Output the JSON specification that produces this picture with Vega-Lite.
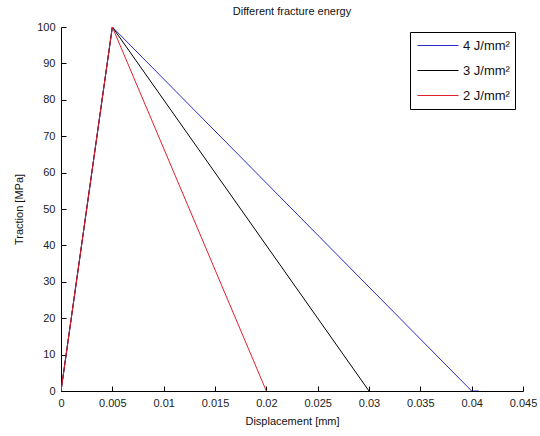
{
  "$schema": "https://vega.github.io/schema/vega-lite/v6.json",
  "width": 462,
  "height": 364,
  "autosize": "none",
  "padding": {"left": 61, "top": 27, "right": 17, "bottom": 45},
  "background": "white",
  "title": {"text": "Different fracture energy", "fontSize": 11, "fontWeight": "normal", "font": "Liberation Sans", "color": "#111", "offset": 4},
  "data": {"values": [
    {"series": "4 J/mm²", "i": 0, "x": 0, "y": 0},
    {"series": "4 J/mm²", "i": 1, "x": 0.005, "y": 100},
    {"series": "4 J/mm²", "i": 2, "x": 0.04, "y": 0},
    {"series": "4 J/mm²", "i": 3, "x": 0.0407, "y": 0},
    {"series": "3 J/mm²", "i": 0, "x": 0, "y": 0},
    {"series": "3 J/mm²", "i": 1, "x": 0.005, "y": 100},
    {"series": "3 J/mm²", "i": 2, "x": 0.03, "y": 0},
    {"series": "2 J/mm²", "i": 0, "x": 0, "y": 0},
    {"series": "2 J/mm²", "i": 1, "x": 0.005, "y": 100},
    {"series": "2 J/mm²", "i": 2, "x": 0.02, "y": 0}
  ]},
  "mark": {"type": "line", "strokeWidth": 1, "clip": true},
  "encoding": {
    "x": {"field": "x", "type": "quantitative", "title": "Displacement [mm]",
      "scale": {"domain": [0, 0.045], "nice": false, "zero": false},
      "axis": {"values": [0, 0.005, 0.01, 0.015, 0.02, 0.025, 0.03, 0.035, 0.04, 0.045], "format": "~g", "grid": false, "tickSize": -5, "labelPadding": 11, "domainColor": "#000", "tickColor": "#000", "labelColor": "#222", "labelFont": "Liberation Sans", "labelFontSize": 11, "titleFont": "Liberation Sans", "titleFontSize": 11, "titleFontWeight": "normal", "titleColor": "#111", "titlePadding": 7, "labelFlush": false}},
    "y": {"field": "y", "type": "quantitative", "title": "Traction [MPa]",
      "scale": {"domain": [0, 100], "nice": false},
      "axis": {"values": [0, 10, 20, 30, 40, 50, 60, 70, 80, 90, 100], "grid": false, "tickSize": -5, "labelPadding": 11, "domainColor": "#000", "tickColor": "#000", "labelColor": "#222", "labelFont": "Liberation Sans", "labelFontSize": 11, "titleFont": "Liberation Sans", "titleFontSize": 11, "titleFontWeight": "normal", "titleColor": "#111", "titlePadding": 12, "labelFlush": false}},
    "color": {"field": "series", "type": "nominal",
      "scale": {"domain": ["4 J/mm²", "3 J/mm²", "2 J/mm²"], "range": ["#2a2ad0", "#000000", "#e0202c"]},
      "legend": {"title": null, "orient": "none", "legendX": 349, "legendY": 5, "symbolType": "stroke", "symbolSize": 1681, "symbolStrokeWidth": 1, "clipHeight": 17, "symbolOffset": 2, "labelFont": "Liberation Sans", "labelFontSize": 13, "labelColor": "#111", "strokeColor": "#000", "fillColor": "white", "padding": 5, "rowPadding": 8, "labelOffset": 4}},
    "order": {"field": "i", "type": "quantitative"}
  },
  "config": {"view": {"stroke": null}}
}
